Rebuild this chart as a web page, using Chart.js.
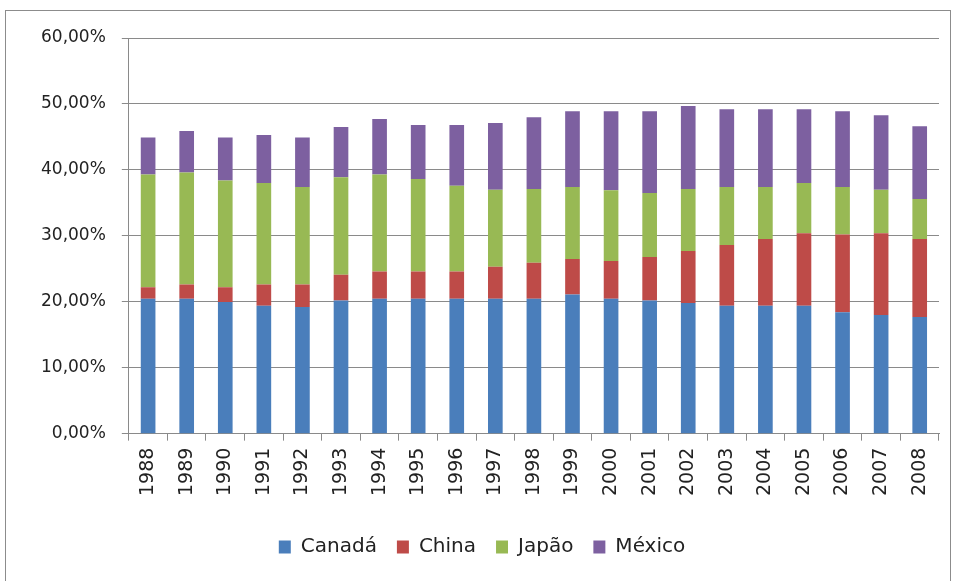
<!DOCTYPE html>
<html>
<head>
<meta charset="utf-8">
<script src="https://cdn.jsdelivr.net/npm/chart.js@4/dist/chart.umd.min.js"></script>
<style>
  html, body { margin: 0; padding: 0; background: #fff; }
  #wrap { position: relative; width: 956px; height: 581px; }
  #frame {
    position: absolute; left: 5px; top: 10px; width: 944px; height: 575px;
    border: 1px solid #8c8c8c; pointer-events: none;
  }
</style>
</head>
<body>
<div id="wrap">
  <canvas id="chart" width="956" height="581"></canvas>
  <div id="frame"></div>
</div>
<script>
  // anos e participações (%)
  const YEARS = ['1988', '1989', '1990', '1991', '1992', '1993', '1994', '1995', '1996', '1997', '1998',
    '1999', '2000', '2001', '2002', '2003', '2004', '2005', '2006', '2007', '2008'];
  const CANADA = [20.45, 20.45, 19.95, 19.4, 19.2, 20.2, 20.45, 20.45, 20.45, 20.45, 20.45,
    21.1, 20.45, 20.2, 19.8, 19.4, 19.4, 19.4, 18.4, 18.0, 17.7];
  const CHINA = [1.75, 2.15, 2.25, 3.2, 3.4, 3.9, 4.15, 4.15, 4.15, 4.85, 5.45,
    5.4, 5.75, 6.6, 7.9, 9.2, 10.1, 11.0, 11.8, 12.4, 11.8];
  const JAPAO = [17.1, 17.0, 16.2, 15.4, 14.8, 14.8, 14.7, 14.0, 13.0, 11.7, 11.2,
    10.9, 10.7, 9.7, 9.4, 8.8, 7.9, 7.6, 7.2, 6.6, 6.1];
  const MEXICO = [5.6, 6.3, 6.5, 7.3, 7.5, 7.6, 8.4, 8.2, 9.2, 10.1, 10.9,
    11.5, 12.0, 12.4, 12.6, 11.8, 11.8, 11.2, 11.5, 11.3, 11.0];
  const Y_TICKS = [0, 10, 20, 30, 40, 50, 60];

  const FONT = 'DejaVu Sans';
  const GRID = '#8a8a8a';

  function series(label, data, color) {
    return {
      label,
      data,
      backgroundColor: color,
      borderWidth: 0,
      barPercentage: 0.38,
      categoryPercentage: 1,
    };
  }

  new Chart(document.getElementById('chart').getContext('2d'), {
    type: 'bar',
    data: {
      labels: YEARS,
      datasets: [
        series('Canadá', CANADA, '#4a7ebb'),
        series('China', CHINA, '#be4b48'),
        series('Japão', JAPAO, '#98b954'),
        series('México', MEXICO, '#7d60a0'),
      ],
    },
    options: {
      responsive: false,
      animation: false,
      layout: { padding: { left: 25, right: 17, top: 38, bottom: 14 } },
      plugins: {
        legend: {
          display: true,
          position: 'bottom',
          labels: {
            color: '#222',
            font: { family: FONT, size: 20 },
            boxWidth: 12,
            boxHeight: 13,
            padding: 20,
          },
        },
        tooltip: { enabled: false },
      },
      scales: {
        x: {
          stacked: true,
          offset: true,
          afterFit: (scale) => { scale.height += 14; },
          grid: {
            display: true,
            drawOnChartArea: false,
            drawTicks: true,
            tickLength: 7,
            color: GRID,
            offset: true,
          },
          border: { color: GRID, width: 1 },
          ticks: {
            color: '#222',
            font: { family: FONT, size: 19 },
            minRotation: 90,
            maxRotation: 90,
            autoSkip: false,
            padding: 7,
          },
        },
        y: {
          stacked: true,
          min: 0,
          max: 60,
          afterBuildTicks: (axis) => {
            axis.ticks = Y_TICKS.map((v) => ({ value: v }));
          },
          grid: { color: GRID, lineWidth: 1, tickLength: 7 },
          border: { color: GRID, width: 1 },
          ticks: {
            color: '#222',
            font: { family: FONT, size: 17 },
            padding: 16,
            callback: (v) => v.toFixed(2).replace('.', ',') + '%',
          },
        },
      },
    },
  });
</script>
</body>
</html>
